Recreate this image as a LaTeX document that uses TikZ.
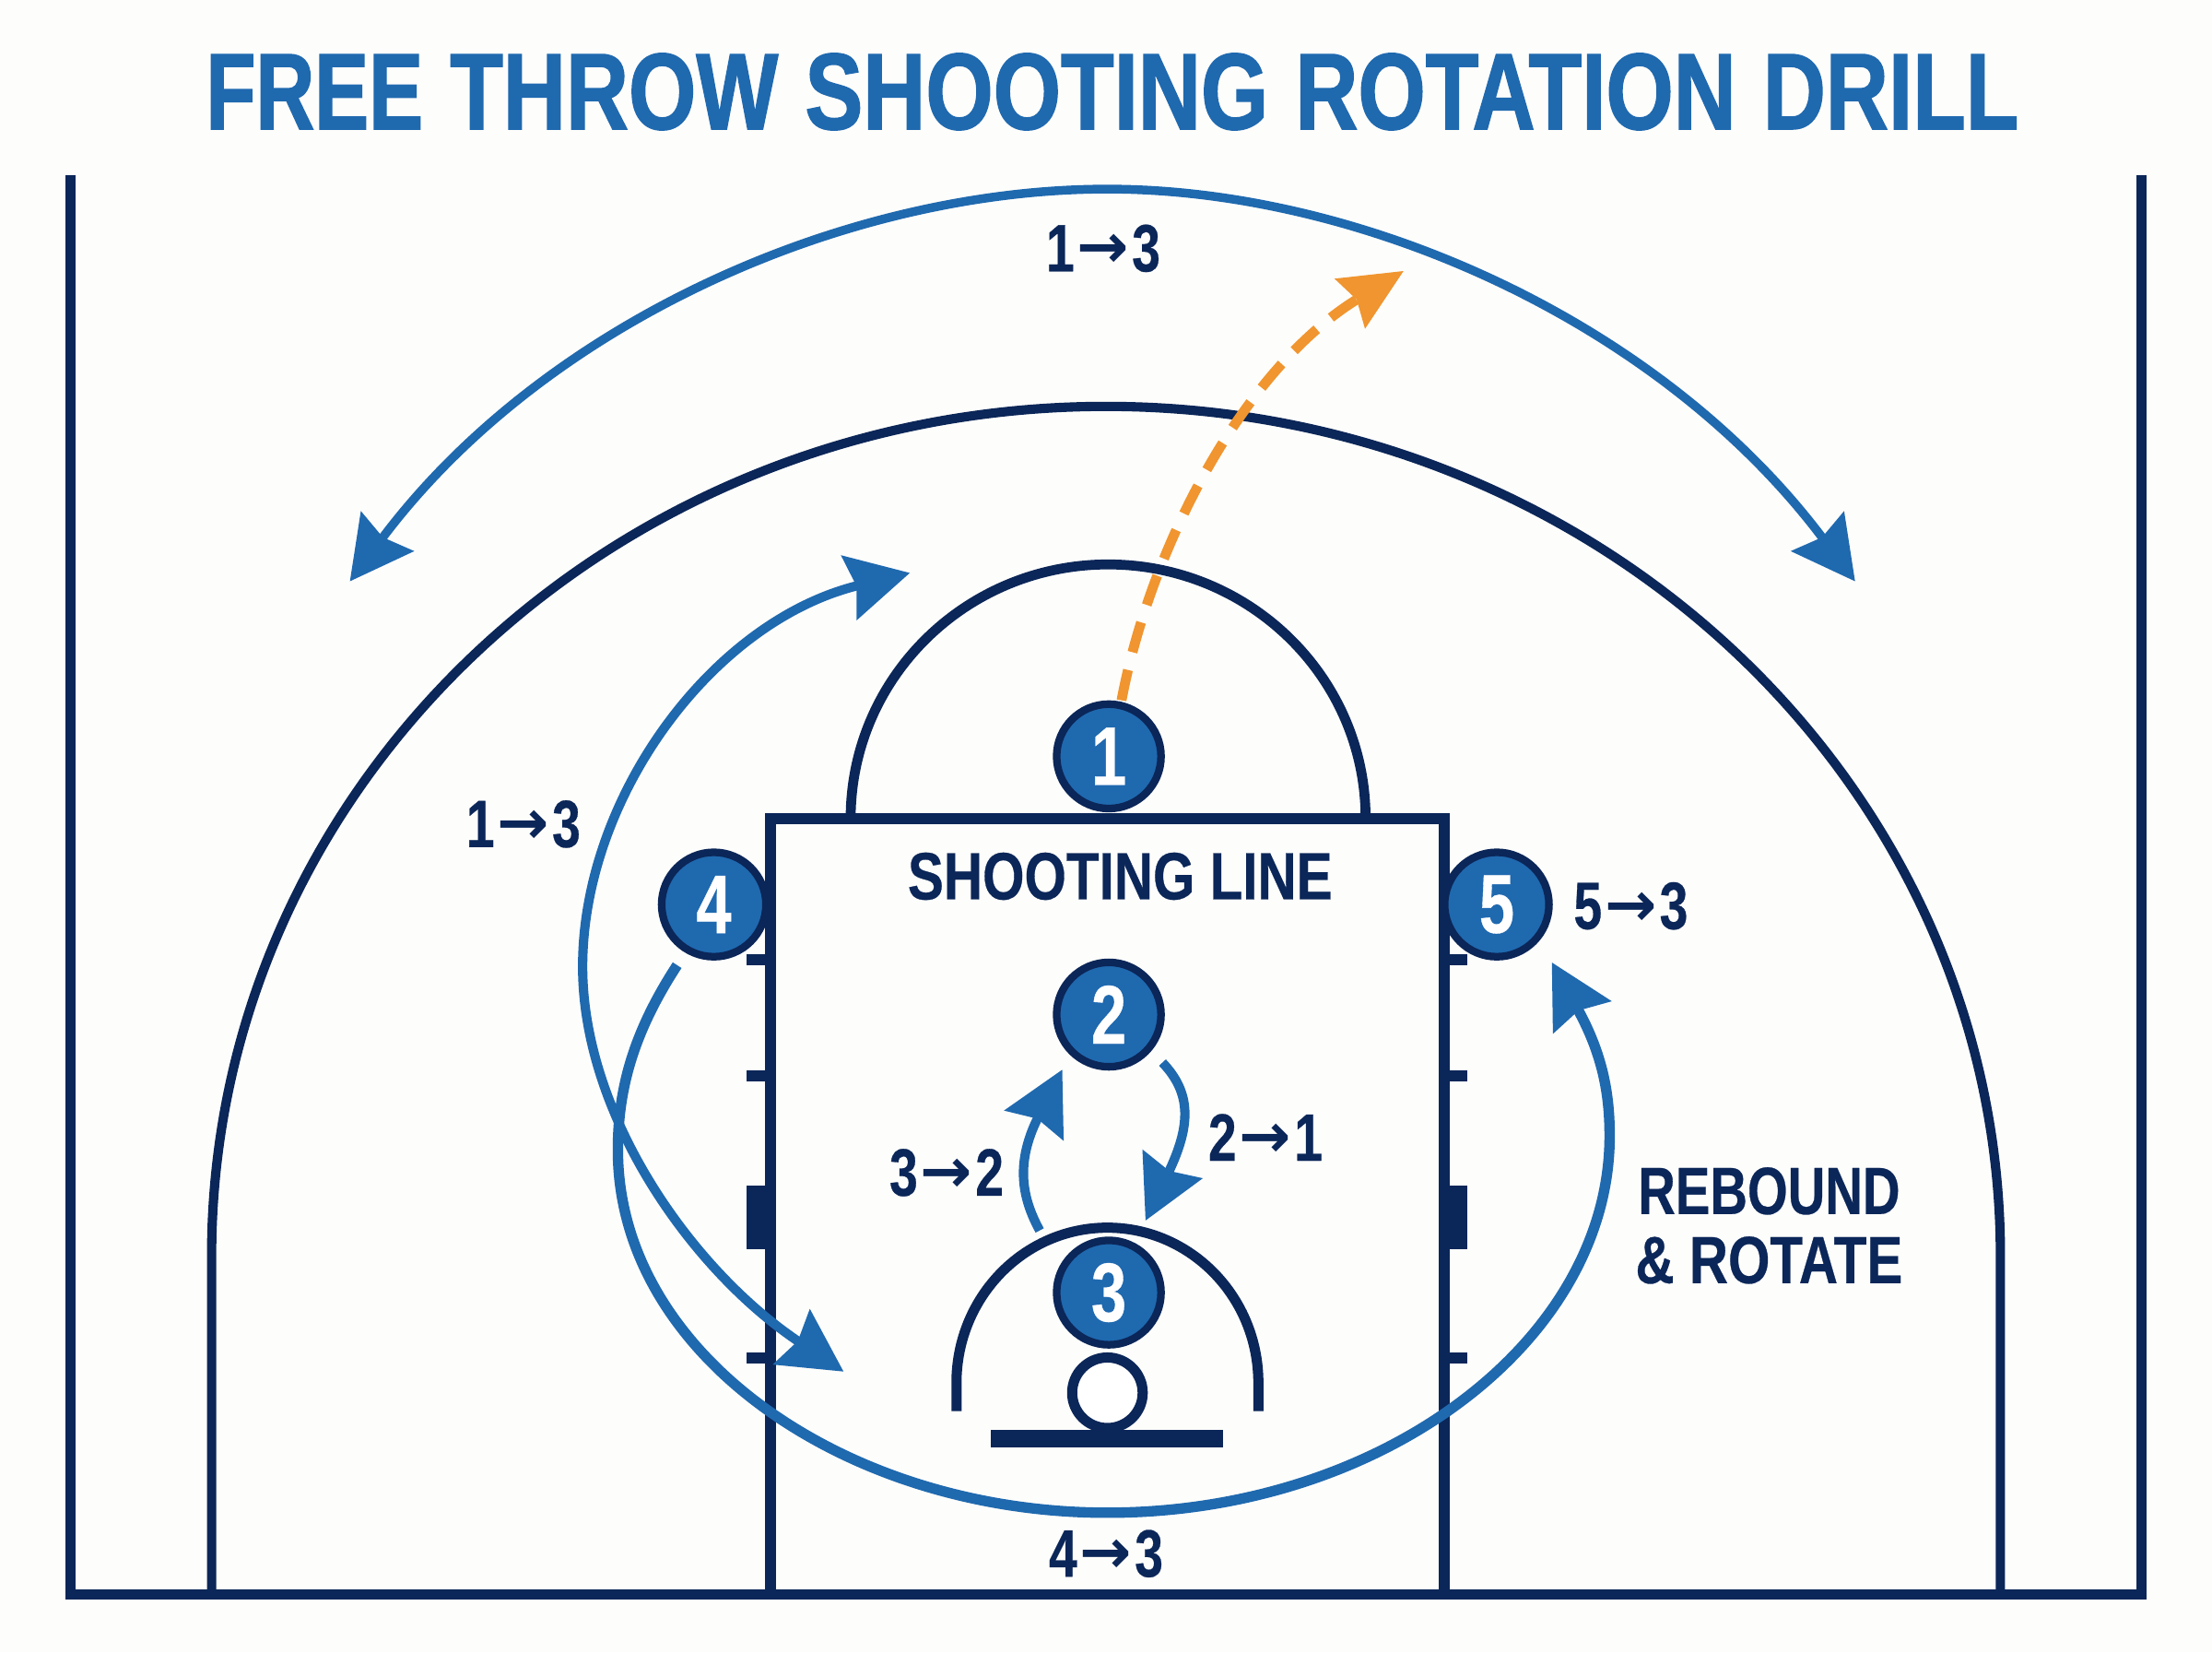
\documentclass[tikz,border=0pt]{standalone}
\usepackage{fontspec}
\usetikzlibrary{arrows.meta}
\setmainfont{Liberation Sans}
\newfontfamily\titlefont[FakeStretch=0.80,FakeBold=1.2]{Liberation Sans Bold}
\newfontfamily\titlenarrow[FakeStretch=0.75,FakeBold=1.2]{Liberation Sans Bold}
\newfontfamily\labelfont[FakeStretch=0.76,FakeBold=0.4]{Liberation Sans Bold}
\newfontfamily\wordfont[FakeStretch=0.805,FakeBold=0.4]{Liberation Sans Bold}
\newfontfamily\rebfont[FakeStretch=0.775,FakeBold=0.4]{Liberation Sans Bold}
\newfontfamily\arrowfont{DejaVu Sans Bold}
\newcommand{\arw}{\kern1pt\raisebox{1.1pt}{\arrowfont\fontsize{22}{22}\selectfont →}\kern1pt}
\definecolor{navy}{HTML}{0B2658}
\definecolor{royal}{HTML}{1F69AF}
\definecolor{amber}{HTML}{F0952F}
\definecolor{paper}{HTML}{FDFDFB}
\tikzset{
  court/.style={draw=navy,line width=3.3pt},
  lane/.style={draw=navy,line width=4pt},
  solidnavy/.style={fill=navy,draw=none},
  player/.style={circle,draw=navy,fill=royal,line width=2.7pt,minimum size=37pt,inner sep=0pt,text=white,font=\labelfont\fontsize{29.5}{29.5}\selectfont},
  lbl/.style={text=navy,inner sep=0pt,font=\labelfont\fontsize{23.7}{23.7}\selectfont},
  biglbl/.style={text=navy,inner sep=0pt,font=\wordfont\fontsize{23.7}{23.7}\selectfont},
  flow/.style={draw=royal,line width=3.3pt},
  headB/.tip={Stealth[length=22pt,width=23pt,inset=2.5pt,fill=royal]},
  headO/.tip={Stealth[length=22pt,width=20pt,inset=2.5pt,fill=amber]}
}
\begin{document}
\begin{tikzpicture}[x=0.5pt,y=-0.5pt]
\useasboundingbox[fill=paper] (0,0) rectangle (1568,1171);

% title
\node[text=royal,inner sep=0pt,font=\titlefont\fontsize{38.5}{38.5}\selectfont] (title) at (788.5,65) {\spaceskip=9.5pt {\titlenarrow\fontsize{38.5}{38.5}\selectfont FREE} THROW SHOOTING ROTATION DRILL};

% court
\draw[lane,line width=3.7pt] (50,124) -- (50,1130) -- (1518,1130) -- (1518,124);
\draw[court] (150,1130) -- (150,890) arc[start angle=180,end angle=360,x radius=634,y radius=602] -- (1418,1130);
\draw[court,line width=3.5pt] (603,580) arc[start angle=180,end angle=360,x radius=182.5,y radius=180];
\draw[lane] (546,1130) -- (546,580) -- (1024,580) -- (1024,1130);
% hash marks
\fill[solidnavy] (529,676) rectangle (546,684);
\fill[solidnavy] (529,758.5) rectangle (546,766.5);
\fill[solidnavy] (529,840.5) rectangle (546,885);
\fill[solidnavy] (529,958.5) rectangle (546,966.5);
\fill[solidnavy] (1024,676) rectangle (1040,684);
\fill[solidnavy] (1024,758.5) rectangle (1040,766.5);
\fill[solidnavy] (1024,840.5) rectangle (1040,885);
\fill[solidnavy] (1024,958.5) rectangle (1040,966.5);
% restricted arc, rim, backboard
\draw[court,line width=3.6pt] (678,1000) -- (678,980) arc[start angle=180,end angle=360,x radius=107,y radius=110] -- (892,1000);
\fill[solidnavy] (702,1013) rectangle (867,1026);
\draw[court,line width=3.6pt,fill=white] (785,987) circle[radius=25];

% players
\node[player] (p1) at (786,536) {1};
\node[player] (p2) at (786,719) {2};
\node[player] (p3) at (786,916) {3};
\node[player] (p4) at (506,641) {4};
\node[player] (p5) at (1061,641) {5};

% free ends
\coordinate (bigL) at (248,412);
\coordinate (bigT) at (785,134);
\coordinate (bigR) at (1315,412);
\coordinate (loopA) at (645,406);
\coordinate (loopB) at (413,685);
\coordinate (loopC) at (598,972);
\coordinate (orbS) at (480,684);
\coordinate (orbL) at (438,815);
\coordinate (orbB) at (785,1072);
\coordinate (orbR) at (1141,805);
\coordinate (orbE) at (1100,682);
\coordinate (upS) at (737,872);
\coordinate (upE) at (753,758);
\coordinate (dnS) at (824,753);
\coordinate (dnE) at (812,865);
\coordinate (shotE) at (995,192);

% connectors
\draw[flow,line width=3.1pt,{headB}-{headB}] (bigL) .. controls (386,228) and (600,134) .. (bigT) .. controls (965,134) and (1177,228) .. (bigR);
\draw[flow,{headB}-{headB}] (loopA) .. controls (505,440) and (413,565) .. (loopB) .. controls (413,790) and (490,900) .. (loopC);
\draw[flow,line width=3.7pt,-{headB}] (orbS) .. controls (450,730) and (438,770) .. (orbL) .. controls (438,960) and (600,1072) .. (orbB) .. controls (980,1072) and (1141,950) .. (orbR) .. controls (1141,775) and (1136,747) .. (orbE);
\draw[flow,-{headB}] (upS) .. controls (725,850) and (719,825) .. (upE);
\draw[flow,-{headB}] (dnS) .. controls (845,775) and (844,798) .. (dnE);
\draw[draw=amber,line width=3.5pt,dash pattern=on 11pt off 6.5pt,-{headO}] (p1.north) ++(9,0) .. controls (815,390) and (880,262) .. (shotE);

% labels
\node[lbl] (l1) at (782,176) {1\arw3};
\node[lbl] (l2) at (371,584) {1\arw3};
\node[lbl] (l3) at (1156,642) {5\arw3};
\node[lbl] (l4) at (671,831) {3\arw2};
\node[lbl] (l5) at (897,806) {2\arw1};
\node[lbl] (l6) at (784,1101) {4\arw3};
\node[biglbl] (shoot) at (794,621) {SHOOTING LINE};
\node[biglbl,font=\rebfont\fontsize{23.7}{23.7}\selectfont] (reb1) at (1254,844) {REBOUND};
\node[biglbl] (reb2) at (1254,893) {\& ROTATE};
\end{tikzpicture}
\end{document}
